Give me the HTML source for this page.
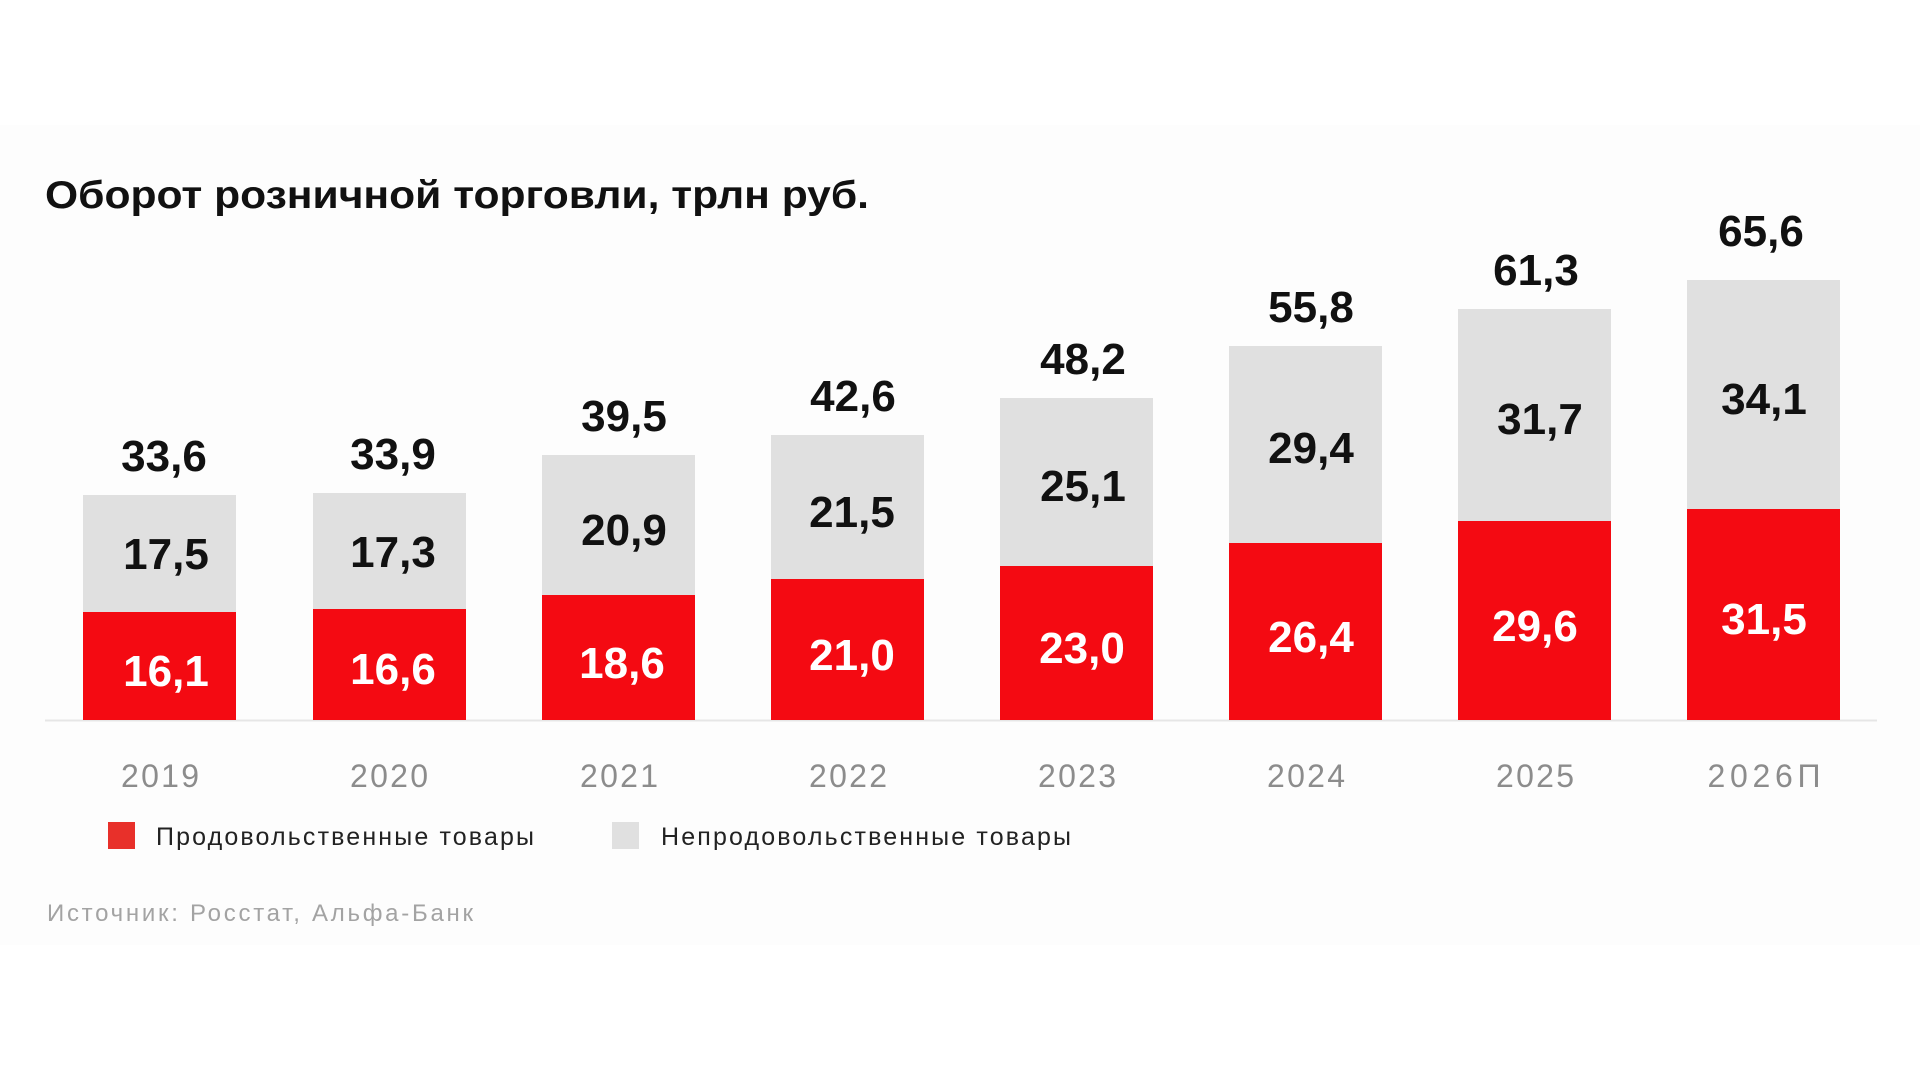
<!DOCTYPE html>
<html><head><meta charset="utf-8"><style>
html,body{margin:0;padding:0;background:#fff;}
svg{display:block;}
text{font-family:"Liberation Sans",sans-serif;}
</style></head><body>
<svg width="1920" height="1080" viewBox="0 0 1920 1080" xmlns="http://www.w3.org/2000/svg">
<rect x="0" y="0" width="1920" height="1080" fill="#ffffff"/>
<rect x="0" y="125" width="1920" height="820" fill="#fdfdfd"/>
<text x="45" y="208" font-size="39" font-weight="bold" fill="#111" textLength="824" lengthAdjust="spacingAndGlyphs">Оборот розничной торговли, трлн руб.</text>
<line x1="45" y1="720.5" x2="1877" y2="720.5" stroke="#e6e6e6" stroke-width="2"/>
<g font-size="44" font-weight="bold" text-anchor="middle">
<rect x="83" y="612" width="153" height="108" fill="#f40a12"/><rect x="83" y="495" width="153" height="117" fill="#e0e0e0"/>
<text x="166" y="686" fill="#fff">16,1</text><text x="166" y="569" fill="#111">17,5</text><text x="164" y="471" fill="#111">33,6</text>

<rect x="313" y="609" width="153" height="111" fill="#f40a12"/><rect x="313" y="493" width="153" height="116" fill="#e0e0e0"/>
<text x="393" y="684" fill="#fff">16,6</text><text x="393" y="567" fill="#111">17,3</text><text x="393" y="469" fill="#111">33,9</text>

<rect x="542" y="595" width="153" height="125" fill="#f40a12"/><rect x="542" y="455" width="153" height="140" fill="#e0e0e0"/>
<text x="622" y="678" fill="#fff">18,6</text><text x="624" y="545" fill="#111">20,9</text><text x="624" y="431" fill="#111">39,5</text>

<rect x="771" y="579" width="153" height="141" fill="#f40a12"/><rect x="771" y="435" width="153" height="144" fill="#e0e0e0"/>
<text x="852" y="670" fill="#fff">21,0</text><text x="852" y="527" fill="#111">21,5</text><text x="853" y="411" fill="#111">42,6</text>

<rect x="1000" y="566" width="153" height="154" fill="#f40a12"/><rect x="1000" y="398" width="153" height="168" fill="#e0e0e0"/>
<text x="1082" y="663" fill="#fff">23,0</text><text x="1083" y="501" fill="#111">25,1</text><text x="1083" y="374" fill="#111">48,2</text>

<rect x="1229" y="543" width="153" height="177" fill="#f40a12"/><rect x="1229" y="346" width="153" height="197" fill="#e0e0e0"/>
<text x="1311" y="652" fill="#fff">26,4</text><text x="1311" y="463" fill="#111">29,4</text><text x="1311" y="322" fill="#111">55,8</text>

<rect x="1458" y="521" width="153" height="199" fill="#f40a12"/><rect x="1458" y="309" width="153" height="212" fill="#e0e0e0"/>
<text x="1535" y="641" fill="#fff">29,6</text><text x="1540" y="434" fill="#111">31,7</text><text x="1536" y="285" fill="#111">61,3</text>

<rect x="1687" y="509" width="153" height="211" fill="#f40a12"/><rect x="1687" y="280" width="153" height="229" fill="#e0e0e0"/>
<text x="1764" y="634" fill="#fff">31,5</text><text x="1764" y="414" fill="#111">34,1</text><text x="1761" y="246" fill="#111">65,6</text>
</g>
<g font-size="32" fill="#8c8c8c" text-anchor="middle">
<text x="160" y="787" textLength="78">2019</text><text x="389" y="787" textLength="78">2020</text><text x="619" y="787" textLength="78">2021</text><text x="848" y="787" textLength="78">2022</text>
<text x="1077" y="787" textLength="78">2023</text><text x="1306" y="787" textLength="78">2024</text><text x="1535" y="787" textLength="78">2025</text><text x="1764" y="787" textLength="113">2026П</text>
</g>
<rect x="108" y="822" width="27" height="27" fill="#e8302a"/>
<text x="156" y="845" font-size="25" fill="#222" textLength="378">Продовольственные товары</text>
<rect x="612" y="822" width="27" height="27" fill="#e0e0e0"/>
<text x="661" y="845" font-size="25" fill="#222" textLength="410">Непродовольственные товары</text>
<text x="47" y="921" font-size="24" fill="#a3a3a3" textLength="426">Источник: Росстат, Альфа-Банк</text>
</svg>
</body></html>
